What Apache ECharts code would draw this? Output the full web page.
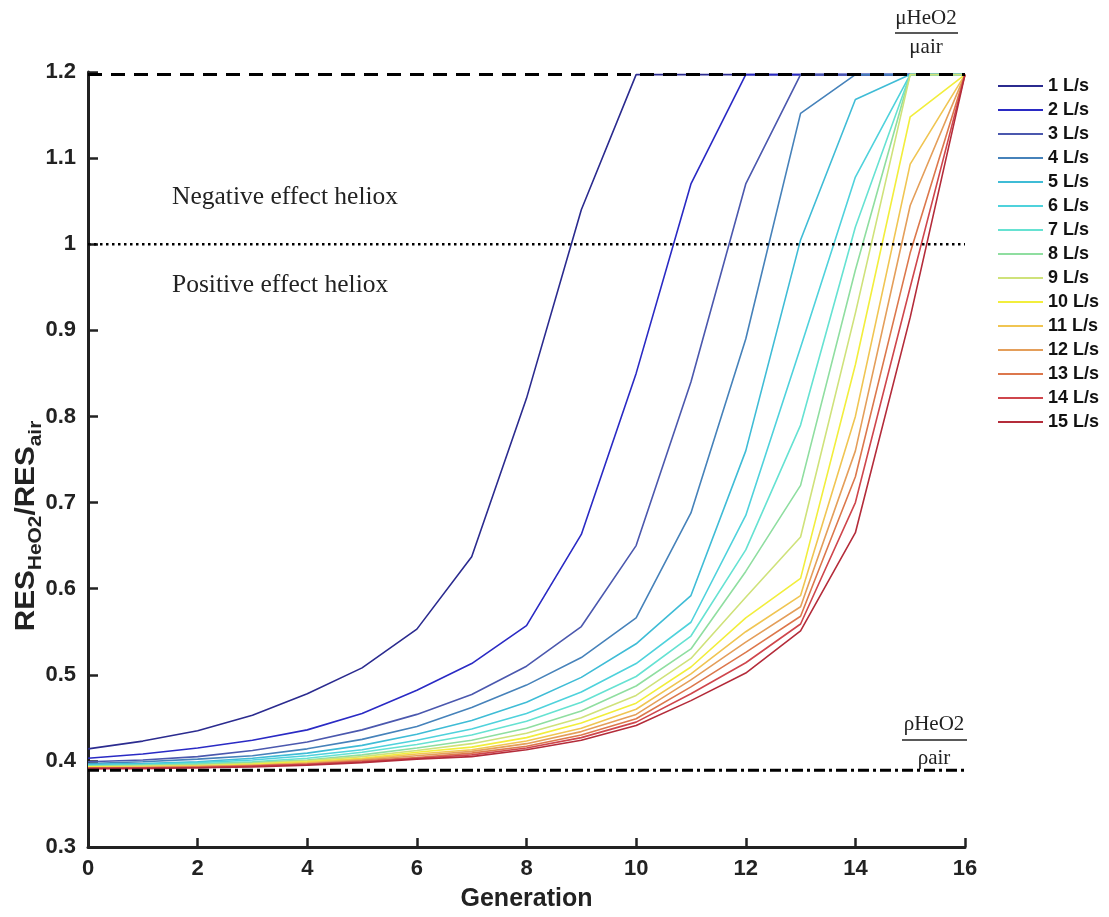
<!DOCTYPE html>
<html>
<head>
<meta charset="utf-8">
<script src="https://cdn.jsdelivr.net/npm/echarts@6/dist/echarts.min.js"></script>
<style>
html,body{margin:0;padding:0;background:#fff;}
#chart{width:1109px;height:917px;}
</style>
</head>
<body>
<div id="chart"></div>
<script>
// ---- DATA ----
const generations = [0,1,2,3,4,5,6,7,8,9,10,11,12,13,14,15,16];
const flowLabels = ['1 L/s','2 L/s','3 L/s','4 L/s','5 L/s','6 L/s','7 L/s','8 L/s','9 L/s','10 L/s','11 L/s','12 L/s','13 L/s','14 L/s','15 L/s'];
const muRatio = 1.197;   // μHeO2/μair
const rhoRatio = 0.389;  // ρHeO2/ρair
const neutralLevel = 1.0;

const flow1  = [0.414,0.423,0.435,0.453,0.478,0.508,0.553,0.637,0.821,1.040,1.197,1.197,1.197,1.197,1.197,1.197,1.197];
const flow2  = [0.403,0.408,0.415,0.424,0.436,0.455,0.482,0.513,0.557,0.663,0.850,1.070,1.197,1.197,1.197,1.197,1.197];
const flow3  = [0.399,0.401,0.405,0.412,0.422,0.436,0.454,0.477,0.510,0.556,0.650,0.840,1.070,1.197,1.197,1.197,1.197];
const flow4  = [0.397,0.399,0.402,0.406,0.414,0.425,0.440,0.462,0.488,0.520,0.566,0.688,0.890,1.152,1.197,1.197,1.197];
const flow5  = [0.396,0.397,0.399,0.403,0.409,0.418,0.431,0.447,0.468,0.497,0.536,0.592,0.760,1.005,1.168,1.197,1.197];
const flow6  = [0.395,0.396,0.398,0.401,0.406,0.413,0.424,0.437,0.455,0.480,0.513,0.561,0.685,0.880,1.078,1.197,1.197];
const flow7  = [0.394,0.395,0.397,0.399,0.403,0.410,0.419,0.430,0.446,0.468,0.498,0.545,0.645,0.790,1.020,1.197,1.197];
const flow8  = [0.394,0.395,0.396,0.398,0.401,0.407,0.415,0.424,0.438,0.458,0.487,0.530,0.620,0.720,0.970,1.197,1.197];
const flow9  = [0.393,0.394,0.395,0.397,0.400,0.405,0.412,0.420,0.432,0.450,0.476,0.519,0.590,0.660,0.920,1.197,1.197];
const flow10 = [0.393,0.393,0.394,0.396,0.399,0.403,0.410,0.416,0.427,0.444,0.467,0.509,0.566,0.612,0.860,1.148,1.197];
const flow11 = [0.392,0.393,0.394,0.395,0.398,0.402,0.408,0.413,0.423,0.438,0.460,0.501,0.550,0.592,0.800,1.093,1.197];
const flow12 = [0.392,0.392,0.393,0.395,0.397,0.401,0.406,0.411,0.420,0.434,0.454,0.494,0.538,0.579,0.760,1.045,1.197];
const flow13 = [0.392,0.392,0.393,0.394,0.396,0.400,0.404,0.409,0.417,0.430,0.449,0.486,0.526,0.568,0.730,0.990,1.197];
const flow14 = [0.391,0.392,0.392,0.394,0.396,0.399,0.403,0.407,0.415,0.427,0.445,0.478,0.514,0.559,0.700,0.950,1.197];
const flow15 = [0.391,0.391,0.392,0.393,0.395,0.398,0.402,0.405,0.413,0.424,0.441,0.470,0.502,0.551,0.665,0.915,1.197];
const flowSeries = [flow1,flow2,flow3,flow4,flow5,flow6,flow7,flow8,flow9,flow10,flow11,flow12,flow13,flow14,flow15];

// ---- STYLE ----
const colors = ['#2b2b8f','#2a2ac4','#4b58ae','#4682ba','#3fbcd6','#4fd2dc','#66e2d2','#8fdea0','#cfe27a','#f2ee3c','#f0c552','#e49e5a','#dc774c','#cf464c','#b42c3a'];

const chart = echarts.init(document.getElementById('chart'), null, {renderer:'canvas'});

const series = flowSeries.map((vals, i) => ({
  name: flowLabels[i],
  type: 'line',
  data: generations.map((g, j) => [g, vals[j]]),
  symbol: 'none',
  showSymbol: false,
  lineStyle: { width: 1.6, color: colors[i] },
  itemStyle: { color: colors[i] },
  z: 2,
  silent: true
}));

function refLine(val, dash, width) {
  return {
    name: 'ref' + val,
    type: 'line',
    data: [[generations[0], val], [generations[generations.length - 1], val]],
    symbol: 'none',
    lineStyle: { width: width, color: '#000', type: dash },
    z: 5,
    silent: true
  };
}
series.push(refLine(muRatio, [14, 9], 3));
series.push(refLine(neutralLevel, [2.5, 3.5], 2.5));
series.push(refLine(rhoRatio, [11, 4, 3, 4], 3));

const sans = 'Liberation Sans';

const option = {
  backgroundColor: '#fff',
  animation: false,
  grid: { left: 88, right: 144, top: 72, bottom: 62, containLabel: false },
  legend: {
    data: flowLabels,
    orient: 'vertical',
    left: 993,
    top: 72,
    icon: 'rect',
    itemWidth: 45,
    itemHeight: 2,
    itemGap: 6,
    textStyle: { fontFamily: sans, fontWeight: 'bold', fontSize: 18, color: '#111', lineHeight: 16 }
  },
  xAxis: {
    type: 'value',
    min: 0, max: 16, interval: 2,
    name: 'Generation',
    nameLocation: 'middle',
    nameGap: 40,
    nameTextStyle: { fontFamily: sans, fontWeight: 'bold', fontSize: 25, color: '#222' },
    axisLine: { show: true, lineStyle: { color: '#222', width: 3 } },
    axisTick: { show: true, inside: true, length: 9, lineStyle: { width: 2.5, color: '#222' } },
    axisLabel: { margin: 11, fontFamily: sans, fontWeight: 'bold', fontSize: 22, color: '#222' },
    splitLine: { show: false }
  },
  yAxis: {
    type: 'value',
    min: 0.3, max: 1.2, interval: 0.1,
    axisLine: { show: true, lineStyle: { color: '#222', width: 3 } },
    axisTick: { show: true, inside: true, length: 10, lineStyle: { width: 2.5, color: '#222' } },
    axisLabel: { margin: 12, fontFamily: sans, fontWeight: 'bold', fontSize: 22, color: '#222',
      formatter: v => String(Math.round(v * 10) / 10) },
    splitLine: { show: false }
  },
  graphic: [
    { type: 'text', x: 27, y: 526, rotation: Math.PI / 2, scaleX: 1.1,
      style: {
        text: '{a|RES}{b|HeO2}{a|/RES}{b|air}',
        align: 'center', verticalAlign: 'middle',
        rich: {
          a: { fontFamily: sans, fontWeight: 'bold', fontSize: 27, fill: '#222', lineHeight: 36, verticalAlign: 'middle' },
          b: { fontFamily: sans, fontWeight: 'bold', fontSize: 19, fill: '#222', lineHeight: 19, verticalAlign: 'bottom' }
        }
      } },
    { type: 'text', left: 172, top: 184, style: { text: 'Negative effect heliox', font: '25.5px "Liberation Serif"', fill: '#222' } },
    { type: 'text', left: 172, top: 272, style: { text: 'Positive effect heliox', font: '25.5px "Liberation Serif"', fill: '#222' } },
    { type: 'text', x: 926, y: 18, style: { text: 'μHeO2', font: '21px "Liberation Serif"', fill: '#222', align: 'center', verticalAlign: 'middle' } },
    { type: 'line', shape: { x1: 895, y1: 33, x2: 958, y2: 33 }, style: { stroke: '#222', lineWidth: 1.5 } },
    { type: 'text', x: 926, y: 47, style: { text: 'μair', font: '21px "Liberation Serif"', fill: '#222', align: 'center', verticalAlign: 'middle' } },
    { type: 'text', x: 934, y: 724, style: { text: 'ρHeO2', font: '21px "Liberation Serif"', fill: '#222', align: 'center', verticalAlign: 'middle' } },
    { type: 'line', shape: { x1: 902, y1: 740, x2: 967, y2: 740 }, style: { stroke: '#222', lineWidth: 1.5 } },
    { type: 'text', x: 934, y: 758, style: { text: 'ρair', font: '21px "Liberation Serif"', fill: '#222', align: 'center', verticalAlign: 'middle' } }
  ],
  series: series
};
chart.setOption(option);
</script>
</body>
</html>
